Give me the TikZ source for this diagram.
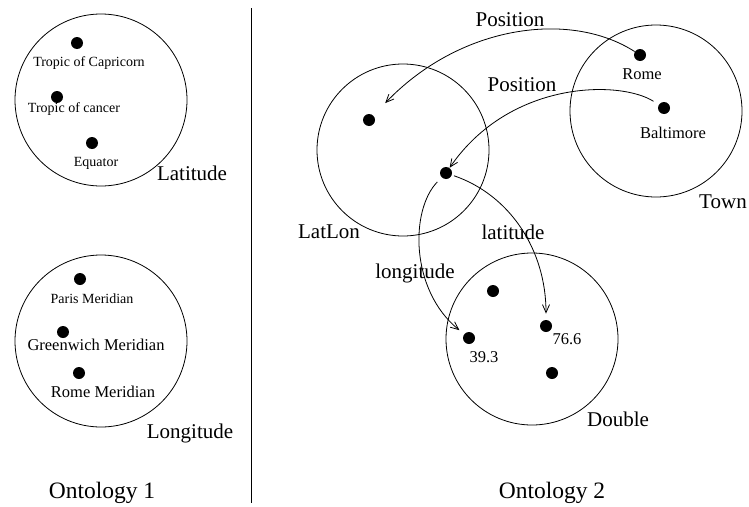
\documentclass[tikz,border=0pt]{standalone}
\usepackage{fontspec}
\setmainfont{Liberation Serif}
\usetikzlibrary{arrows.meta}
\begin{document}
\begin{tikzpicture}[x=1pt, y=-1pt, line width=0.8pt,
    set/.style={draw, circle, minimum size=172pt, inner sep=0pt},
    dot/.style={circle, fill, inner sep=0pt, minimum size=12pt},
    title/.style={font=\fontsize{23.5}{27}\selectfont},
    big/.style={font=\fontsize{21}{24}\selectfont},
    small/.style={font=\fontsize{14}{16}\selectfont},
    mid/.style={font=\fontsize{16.5}{19}\selectfont},
    rel/.style={-{Straight Barb[length=8pt,width=7pt]}}]
    \useasboundingbox (0,0) rectangle (749,506);
    % Ontology 1
    \node[set] (latitude) at (101,100) {};
    \node[dot] (capricorn) at (77,43) {};
    \node[small] at (89,63) {Tropic of Capricorn};
    \node[dot] (cancer) at (57,97) {};
    \node[small] at (74,109) {Tropic of cancer};
    \node[dot] (equator) at (92,143) {};
    \node[small] at (96,163) {Equator};
    \node[big] (latitudelbl) at (192,173) {Latitude};
    \node[set] (longitude) at (101,341) {};
    \node[dot] (paris) at (80,279) {};
    \node[small] at (92,299) {Paris Meridian};
    \node[dot] (greenwich) at (63,332) {};
    \node[mid] at (96,345) {Greenwich Meridian};
    \node[dot] (romemer) at (79,373) {};
    \node[mid] at (103,392) {Rome Meridian};
    \node[big] (longitudelbl) at (190,433) {Longitude};
    \node[title] (onto1) at (102,493) {Ontology 1};
    % divider
    \coordinate (divtop) at (251,8);
    \coordinate (divbot) at (251,503);
    \draw (divtop) -- (divbot);
    % Ontology 2
    \node[set] (latlon) at (403,150) {};
    \node[dot] (pos1) at (369,120) {};
    \node[dot] (pos2) at (446,173) {};
    \node[big] at (329,232) {LatLon};
    \node[set] (town) at (656,111) {};
    \node[dot] (rome) at (640,55) {};
    \node[mid] at (642,74) {Rome};
    \node[dot] (baltimore) at (664,108) {};
    \node[mid] at (673,133) {Baltimore};
    \node[big] at (723,202) {Town};
    \node[set] (double) at (532,339) {};
    \node[dot] (d1) at (493,291) {};
    \node[dot] (d2) at (469,338) {};
    \node[mid] at (484,357) {39.3};
    \node[dot] (d3) at (546,326) {};
    \node[mid] at (567,339) {76.6};
    \node[dot] (d4) at (552,373) {};
    \node[big] at (618,419) {Double};
    \node[title] (onto2) at (552,493) {Ontology 2};
    % relations
    \draw[rel, shorten >=17pt] (rome) .. controls (570,10) and (460,25) .. (pos1);
    \node[big] at (510,20) {Position};
    \draw[rel, shorten <=6pt] (baltimore) .. controls (620,80) and (510,80) .. (pos2);
    \node[big] at (522,85) {Position};
    \draw[rel, shorten <=6pt, shorten >=6pt] (pos2) .. controls (410,210) and (410,290) .. (d2);
    \node[big] at (415,273) {longitude};
    \draw[rel, shorten <=2pt, shorten >=6pt] (pos2) .. controls (510,195) and (546,250) .. (d3);
    \node[big] at (513,232) {latitude};
\end{tikzpicture}
\end{document}
